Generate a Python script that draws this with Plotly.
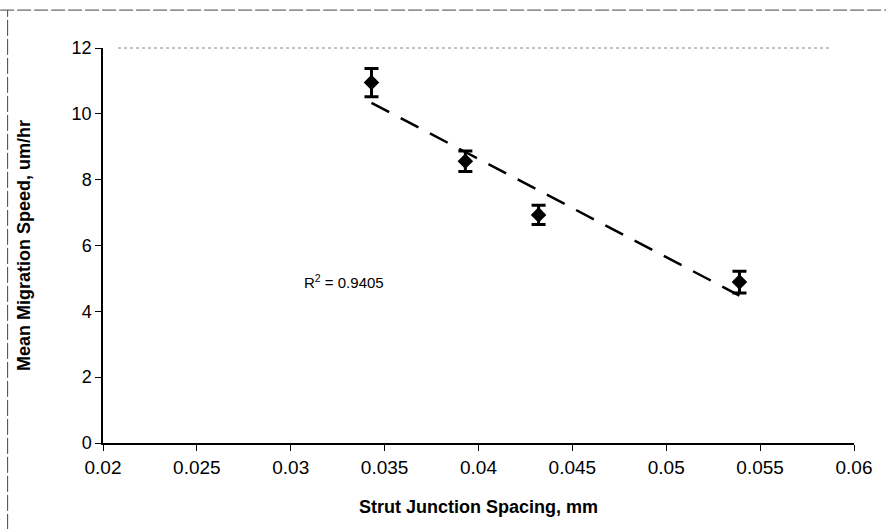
import numpy as np
import plotly.graph_objects as go

# Measured migration speed vs. strut junction spacing
spacing_mm = [0.0343, 0.0393, 0.0432, 0.0539]
speed_um_hr = [10.95, 8.56, 6.93, 4.89]
speed_err = [0.43, 0.31, 0.29, 0.33]
r2_label = "R<sup>2</sup> = 0.9405"

x_ticks = [0.02, 0.025, 0.03, 0.035, 0.04, 0.045, 0.05, 0.055, 0.06]
y_ticks = [0, 2, 4, 6, 8, 10, 12]

# Linear trendline over the measured range
slope, intercept = np.polyfit(spacing_mm, speed_um_hr, 1)
trend_x = [min(spacing_mm), max(spacing_mm)]
trend_y = [slope * v + intercept for v in trend_x]

FONT = "Liberation Sans, Arial, sans-serif"

fig = go.Figure()
fig.add_trace(go.Scatter(
    x=trend_x, y=trend_y, mode="lines",
    line=dict(color="black", width=2.5, dash="20px,13px"),
    hoverinfo="skip", showlegend=False,
))
fig.add_trace(go.Scatter(
    x=spacing_mm, y=speed_um_hr, mode="markers",
    marker=dict(symbol="diamond", size=12, color="black"),
    error_y=dict(type="data", array=speed_err, color="black", thickness=3, width=7),
    showlegend=False,
))

fig.add_annotation(
    x=0.0306, y=4.92, xref="x", yref="y", text=r2_label, showarrow=False,
    xanchor="left", yanchor="middle",
    font=dict(family=FONT, size=15, color="black"),
)

# Faint frame lines around the chart area
fig.add_shape(type="line", xref="paper", yref="paper", x0=-0.137, x1=1.043,
              y0=1.096, y1=1.096, line=dict(color="#444444", width=1, dash="14px,3px"))
fig.add_shape(type="line", xref="paper", yref="paper", x0=-0.127, x1=-0.127,
              y0=-0.22, y1=1.096, line=dict(color="#444444", width=1, dash="16px,3px"))
fig.add_shape(type="line", xref="paper", yref="paper", x0=0.02, x1=0.97,
              y0=1.0, y1=1.0, line=dict(color="#888888", width=1, dash="dot"))

fig.update_layout(
    width=886, height=529,
    margin=dict(l=103, r=32, t=48, b=86),
    paper_bgcolor="white", plot_bgcolor="white",
    font=dict(family=FONT, color="black", size=17),
    xaxis=dict(
        range=[0.02, 0.06], tickvals=x_ticks, ticktext=[f"{v:g}" for v in x_ticks],
        tickfont=dict(family=FONT, size=19, color="black"),
        showgrid=False, zeroline=False, showline=True, linecolor="black", linewidth=1.5,
        ticks="outside", ticklen=6, tickcolor="black",
        title=dict(text="<b>Strut Junction Spacing, mm</b>",
                   font=dict(family=FONT, size=18, color="black"), standoff=24),
    ),
    yaxis=dict(
        range=[0, 12], tickvals=y_ticks,
        tickfont=dict(family=FONT, size=18, color="black"),
        showgrid=False, zeroline=False, showline=True, linecolor="black", linewidth=1.5,
        ticks="outside", ticklen=6, tickcolor="black",
        title=dict(text="<b>Mean Migration Speed, um/hr</b>",
                   font=dict(family=FONT, size=18, color="black"), standoff=36),
    ),
)

fig.write_html("out.html")
